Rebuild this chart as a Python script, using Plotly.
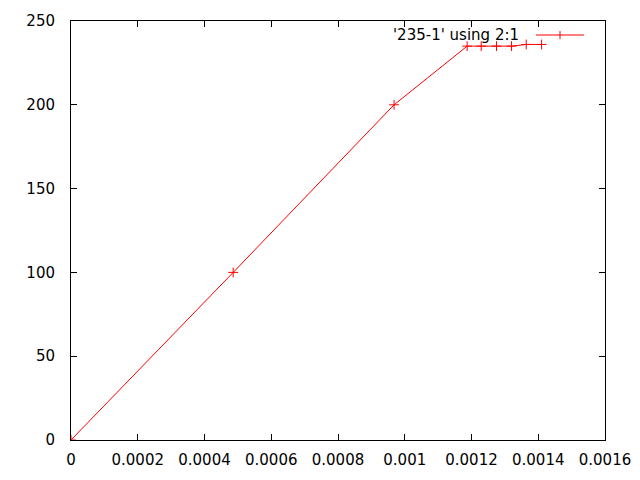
import plotly.graph_objects as go

# Data (column 2 -> x, column 1 -> y)
strain = [0, 0.000486, 0.000968, 0.001187, 0.001229, 0.001275, 0.001320, 0.001364, 0.001410]
load = [0, 100, 200, 235, 235, 235, 235, 236, 236]

x_tick_vals = [0, 0.0002, 0.0004, 0.0006, 0.0008, 0.001, 0.0012, 0.0014, 0.0016]
x_tick_text = ["0", "0.0002", "0.0004", "0.0006", "0.0008", "0.001", "0.0012", "0.0014", "0.0016"]
y_tick_vals = [0, 50, 100, 150, 200, 250]
y_tick_text = ["0", "50", "100", "150", "200", "250"]
legend_label = "'235-1' using 2:1"

FONT = "DejaVu Sans"
FS = 15

# page body has an 8px margin; plot area target: x 71..605, y 21..440
OFF = 8
L, R, T, B = 71, 605, 21, 440
W, H = 640 - OFF, 480 - OFF

fig = go.Figure()
fig.add_trace(go.Scatter(
    x=strain, y=load, mode="lines+markers",
    line=dict(color="#ff0000", width=1),
    marker=dict(symbol="cross-thin", size=7, line=dict(color="#ff0000", width=1), color="#ff0000"),
    showlegend=False, name=legend_label,
))

axis_common = dict(
    showgrid=False, zeroline=False, showline=True, linecolor="black", linewidth=1,
    mirror="ticks", ticks="inside", ticklen=6, tickcolor="black", tickwidth=1,
    tickfont=dict(family=FONT, size=FS, color="black"),
)
fig.update_xaxes(range=[0, 0.0016], tickvals=x_tick_vals, ticktext=x_tick_text,
                 ticklabelstandoff=6, **axis_common)
fig.update_yaxes(range=[0, 250], tickvals=y_tick_vals, ticktext=y_tick_text,
                 ticklabelstandoff=12, **axis_common)

pw, ph = R - L, B - T
def px(x):
    return (x - L) / pw
def py(y):
    return (B - y) / ph

# gnuplot-style key: text on the left, sample on the right
fig.add_annotation(xref="paper", yref="paper", x=px(521), y=py(35),
                   xanchor="right", yanchor="middle", text=legend_label, showarrow=False,
                   font=dict(family=FONT, size=FS, color="black"))
fig.add_shape(type="line", xref="paper", yref="paper",
              x0=px(536), x1=px(584), y0=py(35), y1=py(35),
              line=dict(color="#ff0000", width=1))
fig.add_shape(type="line", xref="paper", yref="paper",
              x0=px(560), x1=px(560), y0=py(31), y1=py(39),
              line=dict(color="#ff0000", width=1))

fig.update_layout(
    width=W, height=H,
    margin=dict(l=L - OFF, r=W + OFF - R, t=T - OFF, b=H + OFF - B, autoexpand=False),
    paper_bgcolor="white", plot_bgcolor="white",
    font=dict(family=FONT, size=FS, color="black"),
)
fig.write_html("out.html")
